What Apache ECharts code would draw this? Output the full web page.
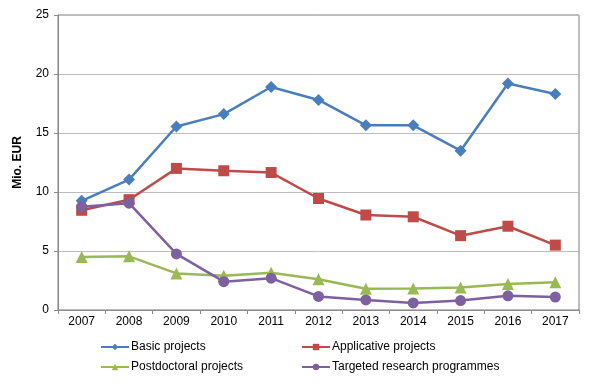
<!DOCTYPE html>
<html><head><meta charset="utf-8">
<script src="https://cdn.jsdelivr.net/npm/echarts@6/dist/echarts.min.js"></script>
<style>html,body{margin:0;padding:0;background:#fff}#c{width:594px;height:384px}</style>
</head><body><div id="c"></div>
<script>
const years = ['2007','2008','2009','2010','2011','2012','2013','2014','2015','2016','2017'];
const basic = [9.25, 11.05, 15.55, 16.6, 18.9, 17.8, 15.65, 15.65, 13.5, 19.2, 18.3];
const applicative = [8.45, 9.35, 12.0, 11.8, 11.65, 9.45, 8.05, 7.9, 6.3, 7.1, 5.5];
const postdoc = [4.5, 4.55, 3.1, 2.9, 3.15, 2.6, 1.8, 1.82, 1.9, 2.2, 2.35];
const targeted = [8.75, 9.05, 4.75, 2.4, 2.7, 1.15, 0.85, 0.6, 0.8, 1.2, 1.1];
const yTicks = [0, 5, 10, 15, 20, 25];

const chart = echarts.init(document.getElementById('c'));
const font = 'Liberation Sans, Arial, sans-serif';
function ser(name, data, color, symbol, size) {
  return { name, type: 'line', data, symbol, symbolSize: size,
    lineStyle: { color, width: 2.5 }, itemStyle: { color }, z: 3 };
}
const legendText = { fontSize: 12, color: '#000', fontFamily: font, padding: [0, 0, 0, -3] };
chart.setOption({
  animation: false,
  textStyle: { fontFamily: font },
  grid: { left: 58, right: 15, top: 15, bottom: 74, show: true, borderColor: '#7a7a7a', borderWidth: 1 },
  xAxis: { type: 'category', data: years, boundaryGap: true,
    axisLine: { lineStyle: { color: '#8a8a8a' } },
    axisTick: { show: true, length: 4, lineStyle: { color: '#8a8a8a' } },
    axisLabel: { color: '#000', fontSize: 12, margin: 6, fontFamily: font } },
  yAxis: { type: 'value', min: yTicks[0], max: yTicks[yTicks.length-1], interval: 5,
    name: 'Mio. EUR', nameLocation: 'middle', nameGap: 34,
    nameTextStyle: { fontWeight: 'bold', fontSize: 12, color: '#000', fontFamily: font },
    axisLine: { show: true, lineStyle: { color: '#8a8a8a' } },
    axisTick: { show: true, length: 4, lineStyle: { color: '#8a8a8a' } },
    splitLine: { lineStyle: { color: '#bdbdbd' } },
    axisLabel: { color: '#000', fontSize: 12, margin: 9, fontFamily: font } },
  legend: [
    { data: ['Basic projects', 'Postdoctoral projects'], orient: 'vertical', left: 95, top: 336,
      itemWidth: 28, itemHeight: 8, itemGap: 8, textStyle: legendText },
    { data: ['Applicative projects', 'Targeted research programmes'], orient: 'vertical', left: 296, top: 336,
      itemWidth: 28, itemHeight: 8, itemGap: 8, textStyle: legendText }
  ],
  series: [
    ser('Basic projects', basic, '#4A7EBB', 'diamond', 12),
    ser('Applicative projects', applicative, '#BE4B48', 'rect', 11),
    ser('Postdoctoral projects', postdoc, '#98B954', 'triangle', 12),
    ser('Targeted research programmes', targeted, '#7D60A0', 'circle', 11)
  ]
});
</script></body></html>
